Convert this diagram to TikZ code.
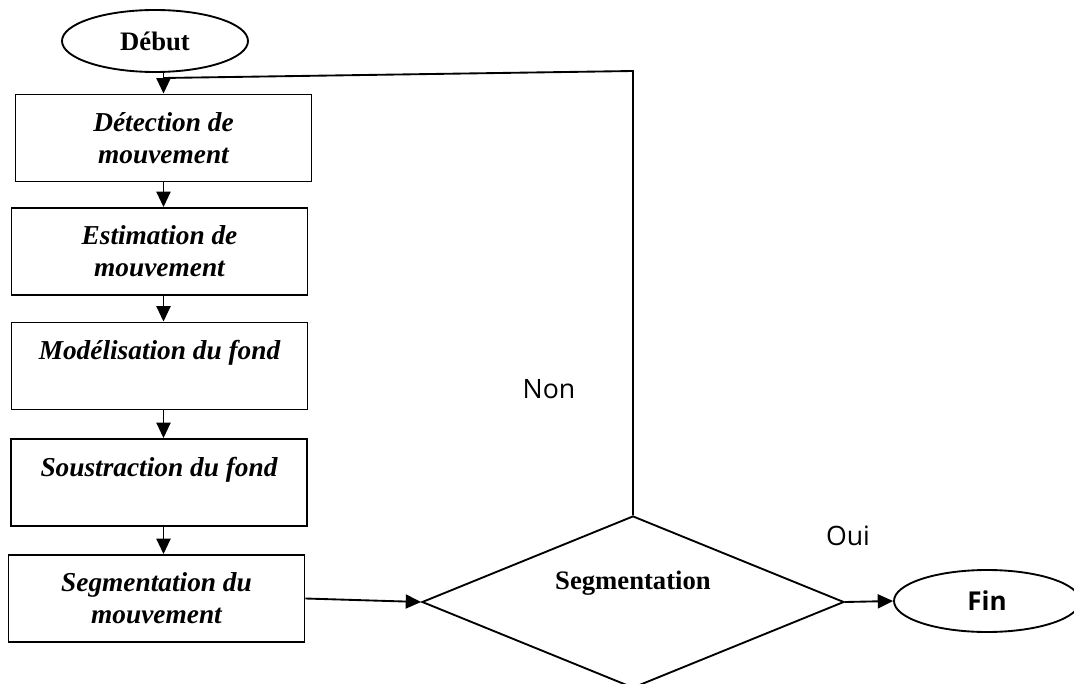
\documentclass[tikz,border=0pt]{standalone}
\usepackage{fontspec}
\setmainfont{Liberation Serif}
\newfontfamily\notefont{Open Sans}
\usetikzlibrary{shapes.geometric,arrows.meta}
\begin{document}
\begin{tikzpicture}[x=0.75pt,y=-0.75pt,
  line width=1.4pt,
  stepbox/.style={draw, rectangle, inner sep=0pt, align=center,
    minimum width=296*0.75pt, minimum height=87*0.75pt,
    font=\fontsize{20.5}{24}\selectfont\bfseries\itshape},
  term/.style={draw, ellipse, inner sep=0pt,
    minimum width=186*0.75pt, minimum height=62*0.75pt},
  arr/.style={-{Triangle[length=11.5pt,width=10.5pt]}},
  answer/.style={font=\notefont\fontsize{20}{24}\selectfont}]
\useasboundingbox (0,0) rectangle (1074,684);

% start terminal
\node[term, font=\fontsize{20}{24}\selectfont\bfseries] (debut) at (155,41) {Début};

% processing chain
\node[stepbox] (b1) at (163.5,138) {Détection de\\mouvement};
\node[stepbox] (b2) at (159.5,251.5) {Estimation de\\mouvement};
\node[stepbox] (b3) at (159.5,366) {Modélisation du fond\\\mbox{}};
\node[stepbox] (b4) at (159,482.5) {Soustraction du fond\\\mbox{}};
\node[stepbox] (b5) at (156.5,598.5) {Segmentation du\\mouvement};

% decision
\node[draw, diamond, inner sep=0pt, aspect=2.45,
  minimum width=422*0.75pt, minimum height=172*0.75pt] (seg) at (633,602) {};
\node[font=\fontsize{20}{24}\selectfont\bfseries] (segtext) at (633,583) {Segmentation};

% end terminal
\node[term, font=\notefont\bfseries\fontsize{19.5}{23}\selectfont] (fin) at (987,601) {Fin};

% branch labels
\node[answer] (non) at (549,389) {Non};
\node[answer] (oui) at (848,536) {Oui};

% connectors
\coordinate (loop) at (633,71);
\coordinate (join) at (163.5,78);
\draw (seg.north) -- (loop) -- (join);
\draw[arr] (debut.south -| b1.north) -- (b1.north);
\draw[arr] (b1.south) -- (b1.south |- b2.north);
\draw[arr] (b1.south |- b2.south) -- (b1.south |- b3.north);
\draw[arr] (b1.south |- b3.south) -- (b1.south |- b4.north);
\draw[arr] (b1.south |- b4.south) -- (b1.south |- b5.north);
\draw[arr] (b5.east) -- (seg.west);
\draw[arr] (seg.east) -- (fin.west);
\end{tikzpicture}
\end{document}
